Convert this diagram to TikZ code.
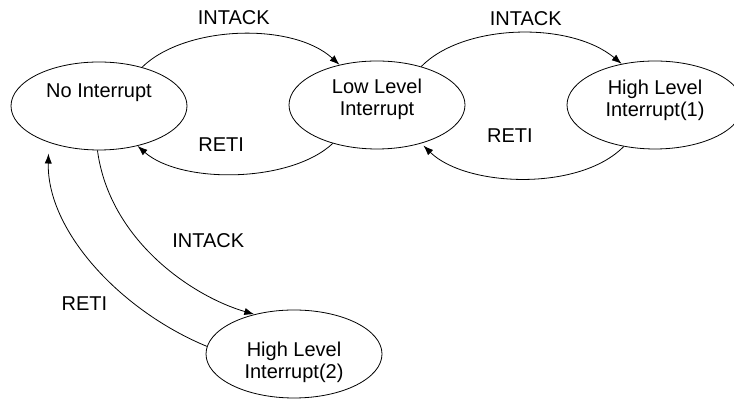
\documentclass[tikz,border=0pt]{standalone}
\usepackage{fontspec}
\setmainfont{Liberation Sans}
\usetikzlibrary{arrows.meta,shapes.geometric}

\begin{document}
\begin{tikzpicture}[>={Latex[length=5pt,width=3.6pt]}, x=0.5pt, y=-0.5pt, font=\fontsize{10}{11}\selectfont,
	state/.style={draw, ellipse, minimum width=88pt, minimum height=44pt, inner sep=0pt},
	txt/.style={align=center}]
%		\draw [help lines] (0,0) grid (734,399);
		\useasboundingbox (0,0) rectangle (734,399);
		\node [state, label={[txt, yshift=6.5pt]center:No Interrupt}] (no) at (99,106) {};
		\node [state, label={[txt, yshift=3pt]center:Low Level\\Interrupt}] (low) at (377,105) {};
		\node [state, label={[txt, yshift=2.5pt]center:High Level\\Interrupt(1)}] (high1) at (655,105) {};
		\node [state, label={[txt, yshift=-4pt]center:High Level\\Interrupt(2)}] (high2) at (294,354) {};
		\draw [->] (no.42) .. controls +(43,-42) and +(-47,-43) .. (low.133) node (ack1) [pos=0.5, xshift=-2.75pt, yshift=8.5pt] {INTACK};
		\draw [->] (low.221) .. controls +(-43,40) and +(43,38) .. (no.314) node (ret1) [pos=0.5, xshift=-7pt, yshift=14.5pt] {RETI};
		\draw [->] (low.41) .. controls +(42,-43) and +(-52,-43) .. (high1.129) node (ack2) [pos=0.5, xshift=4pt, yshift=7.1pt] {INTACK};
		\draw [->, shorten >=1.5pt] (high1.233) .. controls +(-44,45) and +(45,44) .. (low.319) node (ret2) [pos=0.5, xshift=-6.5pt, yshift=21.2pt] {RETI};
		\draw [->] (no.268) .. controls +(12,90) and +(-62,-18) .. (high2.135) node (ack3) [pos=0.5, xshift=25.6pt, yshift=9.3pt] {INTACK};
		\draw [->, shorten >=5.5pt] (high2.175) .. controls +(-87,-36) and +(-2,88) .. (no.216) node (ret3) [pos=0.5, xshift=-5pt, yshift=-20pt] {RETI};
\end{tikzpicture}
\end{document}
